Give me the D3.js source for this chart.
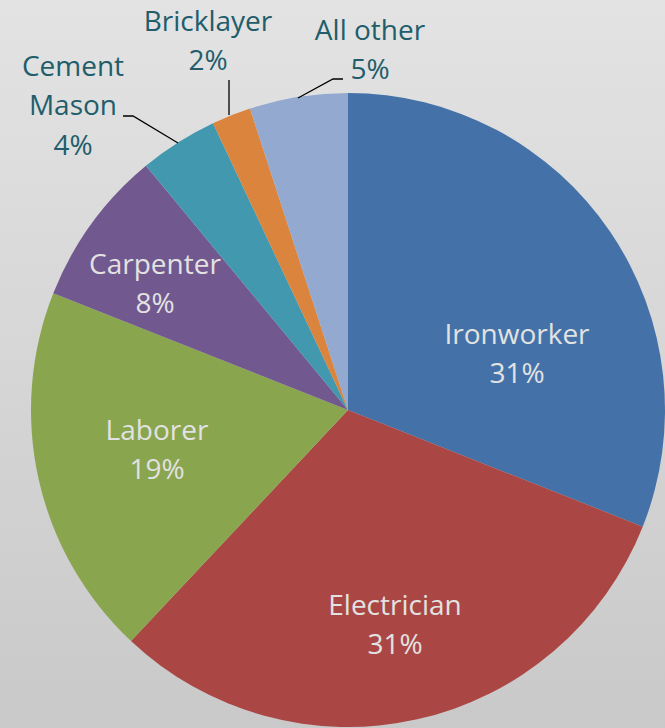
<!DOCTYPE html>
<html>
<head>
<meta charset="utf-8">
<script src="https://cdn.jsdelivr.net/npm/d3@7"></script>
<style>
  html, body { margin: 0; padding: 0; }
  body { width: 665px; height: 728px; overflow: hidden; }
</style>
</head>
<body>
<div class="chart"></div>
<script>
const trades = ['Ironworker', 'Electrician', 'Laborer', 'Carpenter', 'Cement Mason', 'Bricklayer', 'All other'];
const shares = [31, 31, 19, 8, 4, 2, 5];
const colors = ['#4472a8', '#aa4644', '#89a54e', '#71588f', '#4198af', '#db843d', '#93a9cf'];

// label lines (split names) and where each label block sits
const labelLines = [['Ironworker'], ['Electrician'], ['Laborer'], ['Carpenter'], ['Cement', 'Mason'], ['Bricklayer'], ['All other']];
const labelAt = [[517, 334], [395, 605], [157, 430], [155, 264], [73, 66], [208, 21], [370, 30]];
const inside = [true, true, true, true, false, false, false];
// leader lines for the outside labels
const leaders = {
  4: [[123, 116], [133, 116], [178, 143]],
  5: [[229, 80], [229, 115]],
  6: [[343, 79], [333, 79], [298, 98]]
};

const w = 665, h = 728;
const cx = 348, cy = 410, r = 317;
const lineH = 39.5;

const svg = d3.select('div.chart')
  .append('svg')
  .attr('width', w)
  .attr('height', h);

const grad = svg.append('defs').append('linearGradient')
  .attr('id', 'bg')
  .attr('x1', 0).attr('y1', 0).attr('x2', 0).attr('y2', 1);
grad.append('stop').attr('offset', '0%').attr('stop-color', '#e3e3e3');
grad.append('stop').attr('offset', '100%').attr('stop-color', '#c9c9c9');

svg.append('rect')
  .attr('width', w)
  .attr('height', h)
  .attr('fill', 'url(#bg)');

const pie = d3.pie().sort(null).value((d) => d);
const arc = d3.arc().innerRadius(0).outerRadius(r);

const g = svg.append('g')
  .attr('transform', 'translate(' + cx + ',' + cy + ')');

g.selectAll('path')
  .data(pie(shares))
  .enter()
  .append('path')
  .attr('d', arc)
  .attr('fill', (d, i) => colors[i]);

const line = d3.line();
Object.keys(leaders).forEach((k) => {
  svg.append('path')
    .attr('d', line(leaders[k]))
    .attr('fill', 'none')
    .attr('stroke', '#000')
    .attr('stroke-width', 1.3);
});

trades.forEach((t, i) => {
  const lines = labelLines[i].concat([shares[i] + '%']);
  const txt = svg.append('text')
    .attr('font-family', '"Open Sans", sans-serif')
    .attr('font-size', 28)
    .attr('font-weight', inside[i] ? 400 : 500)
    .attr('text-anchor', 'middle')
    .attr('fill', inside[i] ? '#e2e2e2' : '#215d6b');
  lines.forEach((s, j) => {
    txt.append('tspan')
      .attr('x', labelAt[i][0])
      .attr('y', labelAt[i][1] + j * lineH)
      .attr('dy', '0.35em')
      .text(s);
  });
});
</script>
</body>
</html>
